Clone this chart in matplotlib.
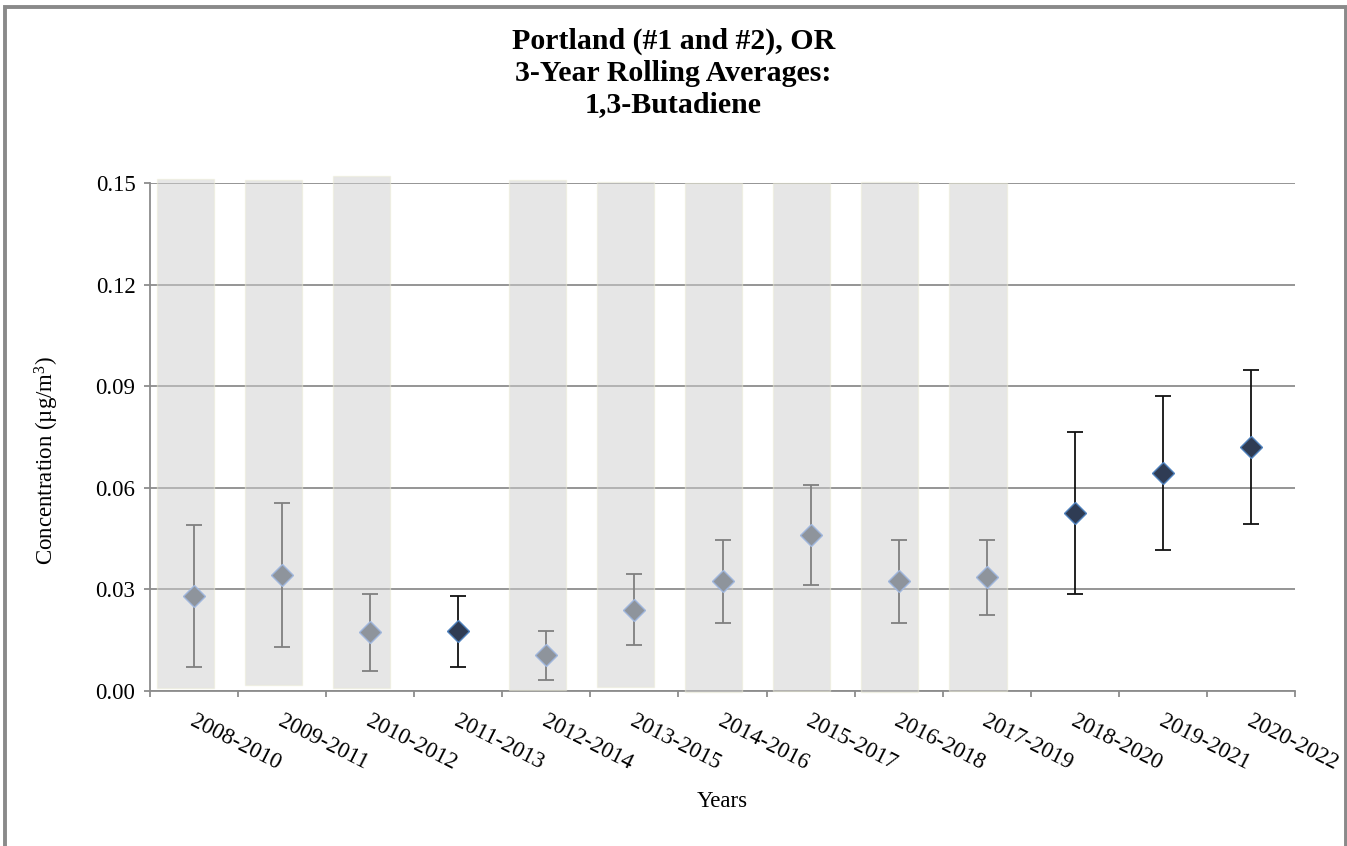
import numpy as np
import matplotlib
matplotlib.use("Agg")
import matplotlib.pyplot as plt
from matplotlib.patches import Rectangle
from matplotlib.transforms import ScaledTranslation

# ---------------- data ----------------
categories = ['2008-2010', '2009-2011', '2010-2012', '2011-2013', '2012-2014',
              '2013-2015', '2014-2016', '2015-2017', '2016-2018', '2017-2019',
              '2018-2020', '2019-2021', '2020-2022']
means = [0.0280, 0.0343, 0.0173, 0.0177, 0.0105, 0.0240, 0.0324,
         0.0461, 0.0324, 0.0336, 0.0526, 0.0645, 0.0721]
upper = [0.0490, 0.0555, 0.0287, 0.0280, 0.0177, 0.0344, 0.0446,
         0.0607, 0.0445, 0.0446, 0.0764, 0.0872, 0.0948]
lower = [0.0070, 0.0130, 0.0058, 0.0071, 0.0033, 0.0137, 0.0200,
         0.0314, 0.0201, 0.0224, 0.0287, 0.0415, 0.0493]
shaded = [True, True, True, False, True, True, True, True, True, True,
          False, False, False]
shade_bottom = [0.0010, 0.0018, 0.0010, np.nan, 0.0003, 0.0012, -0.0003,
                0.0000, -0.0002, 0.0000, np.nan, np.nan, np.nan]
shade_top = [0.1513, 0.1510, 0.1520, np.nan, 0.1510, 0.1503, 0.1500,
             0.1500, 0.1503, 0.1500, np.nan, np.nan, np.nan]
yticks = [0.00, 0.03, 0.06, 0.09, 0.12, 0.15]
title = "Portland (#1 and #2), OR\n3-Year Rolling Averages:\n1,3-Butadiene"

# ---------------- style ----------------
plt.rcParams['font.family'] = ['Liberation Serif', 'DejaVu Serif']
plt.rcParams['mathtext.fontset'] = 'custom'
plt.rcParams['mathtext.rm'] = 'Liberation Serif'
plt.rcParams['mathtext.it'] = 'Liberation Serif:italic'

W, H = 1347, 846
fig = plt.figure(figsize=(W / 100, H / 100), dpi=100)
ax = fig.add_axes([150 / W, 1 - 691 / H, 1145 / W, 508 / H])

n = len(categories)
x = np.arange(n)
grid_c = '#8c8c8c'

# shaded columns
sb = np.array(shade_bottom)
st = np.array(shade_top)
mask = np.array(shaded)
ax.bar(x[mask] - 0.1, st[mask] - sb[mask], bottom=sb[mask], width=0.65,
       color='#cfcfcf', alpha=0.5, edgecolor='#ecebd6', linewidth=1.0,
       zorder=3, clip_on=False)

# error bars + markers
m = np.array(means)
up = np.array(upper) - m
lo = m - np.array(lower)
for i in range(n):
    if shaded[i]:
        ecol, face, edge = '#808080', '#8e949c', '#9fb6dc'
    else:
        ecol, face, edge = '#111111', '#2f3c54', '#4f81bd'
    ax.errorbar(x[i], m[i], yerr=[[lo[i]], [up[i]]], fmt='none',
                ecolor=ecol, elinewidth=1.3, capsize=5.5, capthick=1.3,
                zorder=4)
    ax.plot(x[i], m[i], marker='D', markersize=11.5, markerfacecolor=face,
            markeredgecolor=edge, markeredgewidth=1.0, linestyle='none',
            zorder=5)

ax.set_xlim(-0.5, n - 0.5)
ax.set_ylim(0, 0.15)
ax.set_yticks(yticks)
ax.set_yticklabels(['%.2f' % v for v in yticks])
ax.yaxis.grid(True, color=grid_c, linewidth=1.3, zorder=1)
ax.set_axisbelow(True)

ax.set_xticks(np.arange(n + 1) - 0.5)
ax.set_xticklabels([])
for s in ['top', 'right']:
    ax.spines[s].set_visible(False)
for s in ['left', 'bottom']:
    ax.spines[s].set_color(grid_c)
    ax.spines[s].set_linewidth(1.3)
ax.tick_params(axis='both', color=grid_c, width=1.3, length=4.5,
               labelsize=16.5, labelcolor='black')
ax.tick_params(axis='y', pad=6)

# rotated category labels
off = ScaledTranslation(2 / 100, -20 / 100, fig.dpi_scale_trans)
trans = ax.get_xaxis_transform() + off
for i, lab in enumerate(categories):
    ax.text(x[i], 0, lab, transform=trans, rotation=-27,
            rotation_mode='anchor', ha='left', va='top', fontsize=16.5)

# titles / labels
fig.text(0.5, 1 - 28 / H, title, ha='center', va='top', fontsize=21.5,
         fontweight='bold', linespacing=1.2)
fig.text(722.5 / W, 1 - 801 / H, 'Years', ha='center', va='center',
         fontsize=16.5)
fig.text(47 / W, 1 - 460 / H, 'Concentration (\u00b5g/m$^3$)', rotation=90,
         ha='center', va='center', fontsize=16.5)

# outer border
fig.patches.append(Rectangle((5 / W, -0.05), 1340.5 / W, 1.05 - 7.5 / H,
                             transform=fig.transFigure, fill=False,
                             edgecolor='#8a8a8a', linewidth=2.8))

fig.savefig('out.png', dpi=100)
